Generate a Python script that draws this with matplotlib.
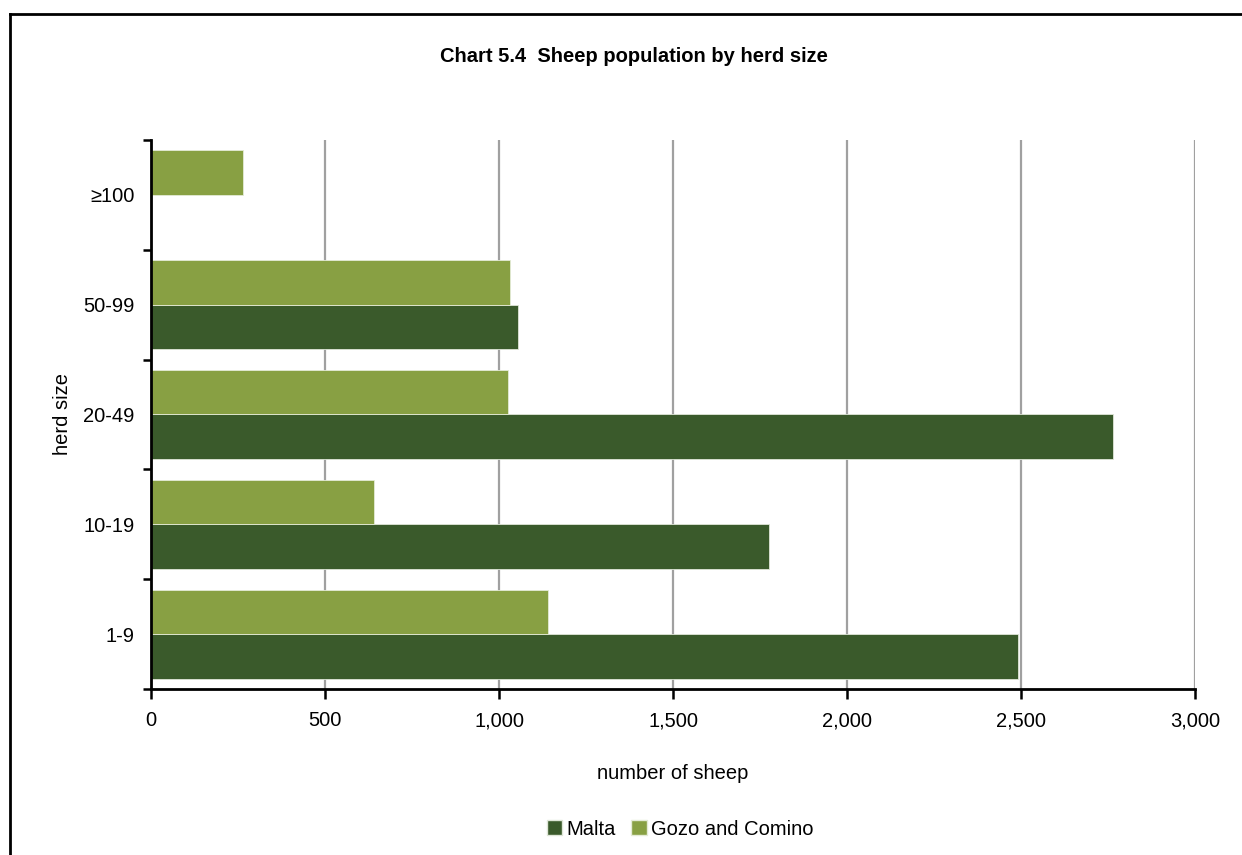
import matplotlib.pyplot as plt
from matplotlib.lines import Line2D
from matplotlib.patches import Patch
from matplotlib.ticker import FuncFormatter, FixedLocator
import numpy as np

plt.rcParams['font.family'] = ['Liberation Sans', 'DejaVu Sans']

# --- data ---
herd_sizes = ["1-9", "10-19", "20-49", "50-99", "\u2265100"]
malta = [2490, 1775, 2765, 1055, 0]
gozo_comino = [1142, 642, 1025, 1033, 265]
x_ticks = [0, 500, 1000, 1500, 2000, 2500, 3000]

MALTA_COLOR = "#3a5a2b"
GOZO_COLOR = "#88a043"
FS = 14.5

fig = plt.figure(figsize=(12.42, 8.55), dpi=100)
ax = fig.add_axes([151 / 1242, 1 - 689 / 855, (1195 - 151) / 1242, (689 - 140) / 855])

y = np.arange(len(herd_sizes))
h = 0.405
ax.barh(y - h / 2, malta, height=h, color=MALTA_COLOR, edgecolor="#dfe6d8",
        linewidth=0.6, zorder=3)
ax.barh(y + h / 2, gozo_comino, height=h, color=GOZO_COLOR, edgecolor="#e4ebd6",
        linewidth=0.6, zorder=3)

ax.set_xlim(0, 3000)
ax.set_ylim(-0.5, len(herd_sizes) - 0.5)

# x axis
ax.set_xticks(x_ticks)
ax.xaxis.set_major_formatter(FuncFormatter(lambda v, p: f"{int(v):,}"))
ax.tick_params(axis="x", direction="out", length=7, width=1.8, labelsize=FS,
               pad=9, colors="black")
ax.grid(axis="x", color="#a0a0a0", linewidth=1.6, zorder=0)

# y axis: labels in the middle, ticks at the boundaries
ax.set_yticks(y)
ax.set_yticklabels(herd_sizes)
ax.yaxis.set_minor_locator(FixedLocator(np.arange(-0.5, len(herd_sizes), 1.0)))
ax.tick_params(axis="y", which="major", length=0, labelsize=FS, pad=12)
ax.tick_params(axis="y", which="minor", direction="out", length=6, width=1.8)

for s in ["top", "right"]:
    ax.spines[s].set_visible(False)
for s in ["left", "bottom"]:
    ax.spines[s].set_linewidth(2)
    ax.spines[s].set_zorder(4)

ax.set_xlabel("number of sheep", fontsize=FS, labelpad=24)
fig.text(63 / 1242, 1 - 414 / 855, "herd size", rotation=90, fontsize=FS,
         ha="center", va="center")

fig.text(634 / 1242, 1 - 57 / 855, "Chart 5.4  Sheep population by herd size",
         fontsize=14.5, fontweight="bold", ha="center", va="center")

handles = [Patch(facecolor=MALTA_COLOR, edgecolor="#dfe6d8", label="Malta"),
           Patch(facecolor=GOZO_COLOR, edgecolor="#e4ebd6", label="Gozo and Comino")]
fig.legend(handles=handles, loc="center", bbox_to_anchor=(680 / 1242, 1 - 829 / 855),
           ncol=2, frameon=False, fontsize=FS, handlelength=0.75, handleheight=0.75,
           handletextpad=0.2, columnspacing=0.8)

# outer frame (left and top only visible)
fig.add_artist(Line2D([10 / 1242, 10 / 1242], [0, 1 - 14 / 855], color="black",
                      linewidth=2, transform=fig.transFigure))
fig.add_artist(Line2D([10 / 1242, 1], [1 - 14 / 855, 1 - 14 / 855], color="black",
                      linewidth=2, transform=fig.transFigure))

fig.savefig("out.png", dpi=100)
